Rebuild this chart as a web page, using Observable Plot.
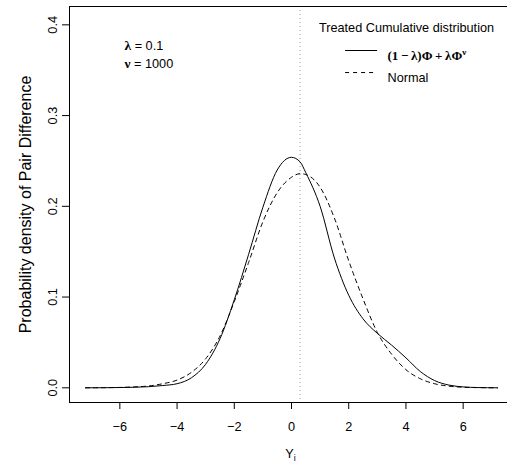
<!DOCTYPE html>
<html><head><meta charset="utf-8">
<script src="https://cdn.jsdelivr.net/npm/d3@7"></script>
<script src="https://cdn.jsdelivr.net/npm/@observablehq/plot@0.6"></script>
<style>
body{margin:0;background:#fff;}
#chart svg{display:block;}
</style></head><body><div id="chart"></div>
<script>
// ---- data ----
const xs      = [-7.2,-6.5,-6,-5.5,-5,-4.5,-4,-3.5,-3,-2.5,-2,-1.5,-1,-0.5,0,0.3,0.5,1,1.5,2,2.5,3,3.5,4,4.5,5,5.5,6,6.5,7.2];
const mixture = [0,0.0001,0.0003,0.0006,0.0012,0.0025,0.0045,0.011,0.026,0.054,0.097,0.147,0.199,0.240,0.254,0.249,0.237,0.200,0.143,0.102,0.076,0.060,0.047,0.033,0.018,0.008,0.003,0.001,0.0003,0];
const normal  = [0,0.0002,0.0004,0.001,0.002,0.0045,0.0085,0.017,0.032,0.057,0.095,0.138,0.183,0.215,0.232,0.236,0.235,0.221,0.187,0.140,0.098,0.061,0.037,0.020,0.010,0.0045,0.0018,0.0006,0.0002,0];
const xTicks = [-6,-4,-2,0,2,4,6];
const yTicks = [0,0.1,0.2,0.3,0.4];
const refLine = [0.3];
const paramLines = ["λ = 0.1", "ν = 1000"];
const legendTitle = "Treated Cumulative distribution";
const legendLabels = ["(1\u2009\u2212\u2009λ)Φ\u2009+\u2009λΦν", "Normal"];
const yLabel = "Probability density of Pair Difference";
const xLabel = "Yi";

const xDom = [-7.76, 7.55];
const yDom = [-0.0162, 0.4202];
const sans = "'Liberation Sans', Arial, Helvetica, sans-serif";
const serif = "'Liberation Serif', 'Times New Roman', serif";
const idx = d3.range(xs.length);
const fs = 12.7;

const chart = Plot.plot({
  width: 507, height: 466,
  marginLeft: 69, marginRight: 0, marginTop: 6, marginBottom: 64,
  x: {domain: xDom},
  y: {domain: yDom},
  style: {fontFamily: sans, fontSize: fs + "px", background: "#fff", color: "#000", overflow: "visible"},
  marks: [
    Plot.ruleX(refLine, {stroke: "#9a9a9a", strokeDasharray: "1,3"}),
    Plot.line(idx, {x: i => xs[i], y: i => normal[i], stroke: "#000", strokeWidth: 1, strokeDasharray: "4,4", curve: "monotone-x"}),
    Plot.line(idx, {x: i => xs[i], y: i => mixture[i], stroke: "#000", strokeWidth: 1, curve: "monotone-x"}),
    // box (its right side lies beyond the picture)
    Plot.ruleY([yDom[0], yDom[1]], {stroke: "#000"}),
    Plot.ruleX([xDom[0]], {stroke: "#000"}),
    Plot.ruleY([yDom[0]], {x1: xTicks[0], x2: xTicks[xTicks.length-1], stroke: "#000"}),
    Plot.axisX(xTicks, {tickSize: 7, tickPadding: 12, label: null, fontSize: fs}),
    Plot.axisY(yTicks, {tickSize: 7, tickRotate: -90, tickPadding: 6, tickFormat: d3.format(".1f"), label: null, fontSize: fs}),
    Plot.text([yLabel], {frameAnchor: "left", textAnchor: "middle", rotate: -90, dx: -44, dy: 0, fontSize: 16}),
    Plot.text([xLabel], {frameAnchor: "bottom", textAnchor: "middle", dy: 55, dx: 2, fontSize: fs}),
    // parameter annotation
    Plot.text([paramLines[0]], {frameAnchor: "top-left", textAnchor: "start", dx: 55, dy: 34.7, fontSize: fs}),
    Plot.text([paramLines[1]], {frameAnchor: "top-left", textAnchor: "start", dx: 55, dy: 52, fontSize: fs}),
    // legend
    Plot.text([legendTitle], {frameAnchor: "top-left", textAnchor: "middle", dx: 337, dy: 16, fontSize: fs}),
    Plot.ruleY([0.3717], {x1: 1.89, x2: 3.01, stroke: "#000"}),
    Plot.ruleY([0.3474], {x1: 1.89, x2: 3.01, stroke: "#000", strokeDasharray: "4,4"}),
    Plot.text([legendLabels[0]], {frameAnchor: "top-left", textAnchor: "start", dx: 318, dy: 44, fontSize: 13, fontFamily: serif, fontWeight: "bold"}),
    Plot.text([legendLabels[1]], {frameAnchor: "top-left", textAnchor: "start", dx: 318, dy: 66, fontSize: fs})
  ]
});
document.getElementById("chart").appendChild(chart);

// rich text: Greek symbols in bold serif, sub/superscripts
const svg = d3.select(chart);
const texts = svg.selectAll("text");
texts.filter(function() { return paramLines.includes(this.textContent); }).each(function() {
  const s = this.textContent;
  const t = d3.select(this).text(null);
  t.append("tspan").attr("font-family", serif).attr("font-weight", "bold").attr("font-size", 13.5).text(s[0]);
  t.append("tspan").text(s.slice(1));
});
texts.filter(function() { return this.textContent === legendLabels[0]; }).each(function() {
  const s = this.textContent;
  const t = d3.select(this).text(null);
  t.append("tspan").text(s.slice(0, -1));
  t.append("tspan").attr("font-size", 9).attr("dy", "-0.5em").text(s.slice(-1));
});
texts.filter(function() { return this.textContent === xLabel; }).each(function() {
  const t = d3.select(this).text(null);
  t.append("tspan").text(xLabel[0]);
  t.append("tspan").attr("font-size", 9).attr("dy", "0.35em").text(xLabel.slice(1));
});
</script></body></html>
